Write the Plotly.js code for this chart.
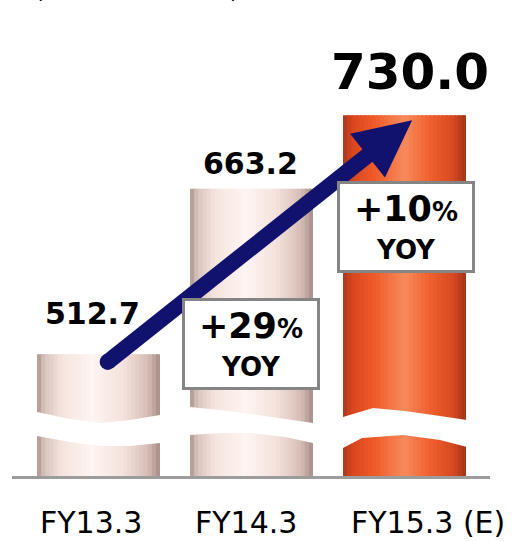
<!DOCTYPE html>
<html><head><meta charset="utf-8">
<script src="https://cdn.plot.ly/plotly-3.0.1.min.js"></script>
<style>html,body{margin:0;padding:0;background:#fff;overflow:hidden}</style>
</head><body><div id="chart" style="width:516px;height:541px"></div>
<script>
// ---- data ----
const categories = ["FY13.3", "FY14.3", "FY15.3 (E)"];
const values = [512.7, 663.2, 730.0];
const valueLabels = ["512.7", "663.2", "730.0"];
const yoyGrowth = ["+29", "+10"];
const unitLabel = "(Billions of Yen, %)";

// ---- geometry ----
const W = 516, H = 541, MB = 65;
const PH = H - MB;
const PX_PER_CAT = 153;
const X0 = -98.5 / PX_PER_CAT, X1 = X0 + W / PX_PER_CAT;
const Y0 = 402, PX_PER_UNIT = 1.1, Y1 = Y0 + PH / PX_PER_UNIT;
const BAR_W = 123 / PX_PER_CAT;
const FONT = "DejaVu Sans, Verdana, sans-serif";

function xpix(x){ return (x - X0) * PX_PER_CAT; }
function ypix(y){ return PH - (y - Y0) * PX_PER_UNIT; }
function pX(px){ return px / W; }
function pY(py){ return (PH - py) / PH; }

function hex2rgb(h){ return [parseInt(h.substr(1,2),16), parseInt(h.substr(3,2),16), parseInt(h.substr(5,2),16)]; }
function grad(stops, t){
  for (let i = 0; i < stops.length - 1; i++){
    const [t0, c0] = stops[i], [t1, c1] = stops[i+1];
    if (t >= t0 && t <= t1){
      const f = (t - t0) / (t1 - t0), a = hex2rgb(c0), b = hex2rgb(c1);
      return 'rgb(' + a.map((v,j)=>Math.round(v + (b[j]-v)*f)).join(',') + ')';
    }
  }
  return stops[stops.length-1][1];
}
const paleStops = [[0,'#a8928d'],[0.06,'#d8c3bd'],[0.2,'#f5e4de'],[0.45,'#fdf5f2'],[0.7,'#f4e2dc'],[0.9,'#d7beb7'],[1,'#a68c86']];
const orangeStops = [[0,'#a8361c'],[0.07,'#d6461f'],[0.25,'#ef5a28'],[0.5,'#f68a5c'],[0.7,'#f0612f'],[0.9,'#d64820'],[1,'#a03418']];

const N = 30;
const traces = [];
for (let k = 0; k < N; k++){
  const t = (k + 0.5) / N;
  const w = BAR_W / N * (k < N - 1 ? 1.6 : 1);
  const off = -BAR_W/2 + k*BAR_W/N;
  traces.push({
    type: 'bar', x: [0,1,2], y: values,
    width: [w,w,w], offset: [off, off, off],
    marker: {color: [grad(paleStops,t), grad(paleStops,t), grad(orangeStops,t)], line: {width: 0}},
    hoverinfo: 'skip', showlegend: false
  });
}

// break band
const upper = [[0,409],[37,412],[70,419],[100,423],[130,420],[160,415],[190,407],[220,410],[250,414],[285,419],[313,423],[343,417],[373,408],[405,411],[440,416],[467,420],[516,418]];
const lower = [[0,436],[37,436],[70,442],[100,446],[130,446],[160,443],[190,435],[220,433],[253,433],[285,437],[313,443],[343,448],[362,438],[403,435],[440,440],[467,447],[516,447]];
let path = 'M ' + upper.map(p => pX(p[0]).toFixed(4) + ',' + pY(p[1]).toFixed(4)).join(' L ');
path += ' L ' + lower.slice().reverse().map(p => pX(p[0]).toFixed(4) + ',' + pY(p[1]).toFixed(4)).join(' L ') + ' Z';

// arrow from first bar to last bar
const sx = xpix(0.06), sy = ypix(values[0] - 7);
const tx = xpix(2.05), ty = ypix(values[2] - 4.5);
const dx = tx - sx, dy = ty - sy, len = Math.hypot(dx, dy);
const ux = dx/len, uy = dy/len, nx = -uy, ny = ux;
const HL = 57, HW = 28;
const bx = tx - ux*HL, by = ty - uy*HL;
const c1 = [bx + nx*HW, by + ny*HW], c2 = [bx - nx*HW, by - ny*HW];
const NAVY = '#11116e';

const shapes = [
  {type:'path', xref:'paper', yref:'paper', path: path, fillcolor:'#ffffff', line:{width:0}, layer:'above'},
  {type:'line', xref:'paper', yref:'paper', x0:pX(12), x1:pX(490), y0:pY(477.5), y1:pY(477.5), line:{color:'#9c9c9c', width:3}, layer:'below'},
  {type:'line', xref:'paper', yref:'paper', x0:pX(sx), y0:pY(sy), x1:pX(bx + ux*4), y1:pY(by + uy*4), line:{color:NAVY, width:16}, layer:'above'},
  {type:'circle', xref:'paper', yref:'paper', x0:pX(sx-8), x1:pX(sx+8), y0:pY(sy+8), y1:pY(sy-8), fillcolor:NAVY, line:{width:0}, layer:'above'},
  {type:'path', xref:'paper', yref:'paper', path: 'M ' + pX(tx) + ',' + pY(ty) + ' L ' + pX(c1[0]) + ',' + pY(c1[1]) + ' L ' + pX(c2[0]) + ',' + pY(c2[1]) + ' Z', fillcolor:NAVY, line:{width:0}, layer:'above'}
];

const annotations = [];
const vShift = [[-6, 41], [-1, 25], [5, 43]];
values.forEach((v, i) => {
  annotations.push({xref:'x', yref:'y', x:i, y:v, xshift:vShift[i][0], yshift:vShift[i][1], yanchor:'middle',
    text:'<b>' + valueLabels[i] + '</b>', showarrow:false, font:{family:FONT, size: i===2 ? 50 : 30, color:'#000'}});
});
const catShift = [-8, -6, 23];
categories.forEach((c, i) => {
  annotations.push({xref:'x', yref:'paper', x:i, y:pY(522), xshift:catShift[i], yanchor:'middle',
    text:c, showarrow:false, font:{family:FONT, size:30, color:'#000'}});
});
const boxes = [[251, 344], [406, 227]];
yoyGrowth.forEach((g, i) => {
  annotations.push({xref:'paper', yref:'paper', x:pX(boxes[i][0]), y:pY(boxes[i][1]), xanchor:'center', yanchor:'middle',
    width:130, height:84, borderwidth:3, borderpad:1, bordercolor:'#858585', bgcolor:'#ffffff', showarrow:false,
    text:'<span style="font-size:35px"><b>' + g + '</b></span><span style="font-size:26px"><b>%</b></span><br><span style="font-size:26px"><b>YOY</b></span>',
    font:{family:FONT, size:29, color:'#000'}});
});
annotations.push({xref:'paper', yref:'paper', x:pX(33), y:pY(-10), xanchor:'left', yanchor:'middle', showarrow:false,
  text:unitLabel, font:{family:FONT, size:22, color:'#000'}});

const layout = {
  width: W, height: H, margin: {l:0, r:0, t:0, b:MB, pad:0},
  paper_bgcolor:'#ffffff', plot_bgcolor:'#ffffff',
  barmode:'overlay', showlegend:false,
  xaxis: {range:[X0, X1], showgrid:false, zeroline:false, showticklabels:false, showline:false, fixedrange:true},
  yaxis: {range:[Y0, Y1], showgrid:false, zeroline:false, showticklabels:false, showline:false, fixedrange:true},
  shapes: shapes, annotations: annotations
};
Plotly.newPlot('chart', traces, layout, {displayModeBar:false, staticPlot:true});
</script></body></html>
